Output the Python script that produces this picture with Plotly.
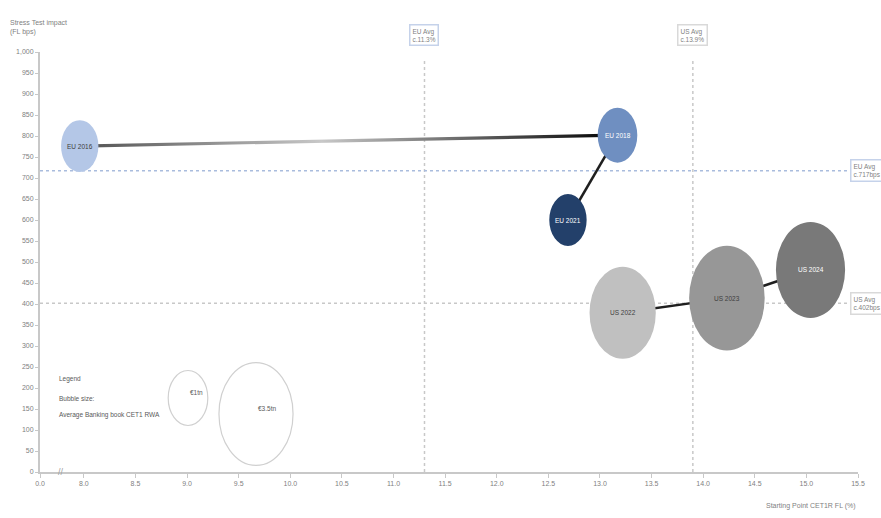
import plotly.graph_objects as go
import numpy as np

# ---------------- data ----------------
bubble_labels = ["EU 2016", "EU 2018", "EU 2021", "US 2022", "US 2023", "US 2024"]
cet1_start = [7.96, 13.17, 12.69, 13.22, 14.23, 15.04]          # Starting point CET1R FL (%)
stress_impact = [776, 802, 600, 379, 414, 481]                   # Stress test impact (FL bps)
bubble_size = [0.89, 1.0, 0.89, 2.8, 3.64, 3.05]                 # relative bubble size
eu_path = [0, 1, 2]
us_path = [3, 4, 5]

eu_avg_x, us_avg_x = 11.3, 13.9
eu_avg_y, us_avg_y = 717, 402

x_tick_vals = [8.0, 8.5, 9.0, 9.5, 10.0, 10.5, 11.0, 11.5, 12.0, 12.5, 13.0, 13.5, 14.0, 14.5, 15.0, 15.5]
x_break_value = 7.575     # axis position where the broken axis shows "0.0"
legend_sizes = [1.0, 3.5]
legend_texts = ["€1tn", "€3.5tn"]

# ---------------- styling ----------------
fill_colors = ["#B4C7E7", "#6F8FC1", "#23406A", "#C0C0C0", "#979797", "#797979"]
text_colors = ["#404040", "#FFFFFF", "#FFFFFF", "#404040", "#404040", "#FFFFFF"]
FONT = "Liberation Sans"
GREY_TXT = "#7F7F7F"
EU_LINE = "#A9BCDD"
US_LINE = "#C8C8C8"

W, H = 881, 518
ML, MR, MT, MB = 40, 23, 52, 46
plot_h = H - MT - MB
y_range = [0, 1000]
px_per_y = plot_h / (y_range[1] - y_range[0])

BASE_H = 55.0   # pixel height of a bubble of size 1
ASPECT = 0.72   # width / height of bubbles


def dims(v):
    h = BASE_H * np.sqrt(v)
    return ASPECT * h, h


fig = go.Figure()

# connecting lines (drawn under bubbles)
# EU first leg: gradient line
i, j = eu_path[0], eu_path[1]
d = 1.6 / px_per_y
fig.add_trace(go.Scatter(
    x=[cet1_start[i], cet1_start[j], cet1_start[j], cet1_start[i], cet1_start[i]],
    y=[stress_impact[i] - d, stress_impact[j] - d, stress_impact[j] + d, stress_impact[i] + d, stress_impact[i] - d],
    mode="lines", line=dict(width=0), fill="toself",
    fillgradient=dict(type="horizontal", colorscale=[[0, "#505050"], [0.45, "#C8C8C8"], [1, "#000000"]]),
    hoverinfo="skip", showlegend=False))

for a, b in [(eu_path[1], eu_path[2]), (us_path[0], us_path[1]), (us_path[1], us_path[2])]:
    fig.add_trace(go.Scatter(
        x=[cet1_start[a], cet1_start[b]], y=[stress_impact[a], stress_impact[b]],
        mode="lines", line=dict(color="#1F1F1F", width=2.5),
        hoverinfo="skip", showlegend=False))

shapes = []
annotations = []

# average reference lines
shapes.append(dict(type="line", xref="x", yref="paper", x0=eu_avg_x, x1=eu_avg_x, y0=0, y1=0.98,
                   line=dict(color=US_LINE, width=1.5, dash="dot"), layer="below"))
shapes.append(dict(type="line", xref="x", yref="paper", x0=us_avg_x, x1=us_avg_x, y0=0, y1=0.98,
                   line=dict(color=US_LINE, width=1.5, dash="dot"), layer="below"))
shapes.append(dict(type="line", xref="paper", yref="y", x0=0, x1=0.988, y0=eu_avg_y, y1=eu_avg_y,
                   line=dict(color=EU_LINE, width=1.5, dash="dot"), layer="below"))
shapes.append(dict(type="line", xref="paper", yref="y", x0=0, x1=0.988, y0=us_avg_y, y1=us_avg_y,
                   line=dict(color=US_LINE, width=1.5, dash="dot"), layer="below"))

box_font = dict(family=FONT, size=6.5, color=GREY_TXT)
annotations.append(dict(x=eu_avg_x, xref="x", y=1.015, yref="paper", yanchor="bottom",
                        text="EU Avg<br>c.%.1f%%" % eu_avg_x, showarrow=False, font=box_font,
                        bordercolor="#C5D2EA", borderwidth=1.5, borderpad=2, bgcolor="white", align="left"))
annotations.append(dict(x=us_avg_x, xref="x", y=1.015, yref="paper", yanchor="bottom",
                        text="US Avg<br>c.%.1f%%" % us_avg_x, showarrow=False, font=box_font,
                        bordercolor="#D9D9D9", borderwidth=1.5, borderpad=2, bgcolor="white", align="left"))
annotations.append(dict(x=0.99, xref="paper", xanchor="left", y=eu_avg_y, yref="y",
                        text="EU Avg<br>c.%dbps" % eu_avg_y, showarrow=False, font=box_font,
                        bordercolor="#C5D2EA", borderwidth=1.5, borderpad=2, bgcolor="white", align="left"))
annotations.append(dict(x=0.99, xref="paper", xanchor="left", y=us_avg_y, yref="y",
                        text="US Avg<br>c.%dbps" % us_avg_y, showarrow=False, font=box_font,
                        bordercolor="#D9D9D9", borderwidth=1.5, borderpad=2, bgcolor="white", align="left"))

# bubbles as ellipses anchored at data coordinates
for k in range(len(bubble_labels)):
    w, h = dims(bubble_size[k])
    shapes.append(dict(type="circle", xref="x", yref="y", xsizemode="pixel", ysizemode="pixel",
                       xanchor=cet1_start[k], yanchor=stress_impact[k],
                       x0=-w / 2, x1=w / 2, y0=-h / 2, y1=h / 2,
                       fillcolor=fill_colors[k], line=dict(width=0), layer="above"))
    annotations.append(dict(x=cet1_start[k], y=stress_impact[k], xref="x", yref="y",
                            text=bubble_labels[k], showarrow=False,
                            font=dict(family=FONT, size=6.5, color=text_colors[k])))

# legend
leg_font = dict(family=FONT, size=6.5, color="#595959")
for txt, py in [("Legend", 385), ("Bubble size:", 404), ("Average Banking book CET1 RWA", 421)]:
    annotations.append(dict(x=(57 - ML) / (W - ML - MR), xref="paper", xanchor="left",
                            y=(H - MB - py) / plot_h, yref="paper", text=txt, showarrow=False, font=leg_font))
leg_centres = [(188, 398), (256, 414)]
for (cx, cy), s, t in zip(leg_centres, legend_sizes, legend_texts):
    w, h = dims(s)
    px_ = (cx - ML) / (W - ML - MR)
    py_ = (H - MB - cy) / plot_h
    shapes.append(dict(type="circle", xref="paper", yref="paper", xsizemode="pixel", ysizemode="pixel",
                       xanchor=px_, yanchor=py_, x0=-w / 2, x1=w / 2, y0=-h / 2, y1=h / 2,
                       fillcolor="rgba(0,0,0,0)", line=dict(color="#D0D0D0", width=1.2)))
    annotations.append(dict(x=px_, y=py_, xref="paper", yref="paper", text=t, showarrow=False, font=leg_font))

# axis titles
annotations.append(dict(x=(8 - ML) / (W - ML - MR), xref="paper", xanchor="left",
                        y=(H - MB - 38) / plot_h, yref="paper", yanchor="bottom",
                        text="Stress Test impact<br>(FL bps)", align="left", showarrow=False,
                        font=dict(family=FONT, size=7, color=GREY_TXT)))
annotations.append(dict(x=1, xref="paper", xanchor="right", y=(H - MB - 512) / plot_h, yref="paper",
                        text="Starting Point CET1R FL (%)", showarrow=False,
                        font=dict(family=FONT, size=7, color=GREY_TXT)))
# axis break mark
annotations.append(dict(x=7.78, xref="x", y=0, yref="y", text="//", showarrow=False,
                        font=dict(family=FONT, size=9, color="#A0A0A0")))

fig.update_layout(
    width=W, height=H,
    margin=dict(l=ML, r=MR, t=MT, b=MB),
    paper_bgcolor="white", plot_bgcolor="white",
    showlegend=False,
    shapes=shapes, annotations=annotations,
    font=dict(family=FONT, size=7, color=GREY_TXT),
    xaxis=dict(range=[x_break_value, x_tick_vals[-1]],
               tickvals=[x_break_value] + x_tick_vals,
               ticktext=["0.0"] + ["%.1f" % v for v in x_tick_vals],
               showgrid=False, zeroline=False, showline=True, linecolor="#C8C8C8", linewidth=2,
               ticks="outside", ticklen=4, tickcolor="#C8C8C8", tickfont=dict(size=7, color=GREY_TXT)),
    yaxis=dict(range=y_range, dtick=50, tickformat=",",
               showgrid=False, zeroline=False, showline=True, linecolor="#C8C8C8", linewidth=2,
               ticks="outside", ticklen=3, tickcolor="#C8C8C8", tickfont=dict(size=7, color=GREY_TXT)),
)

fig.write_html("out.html")
